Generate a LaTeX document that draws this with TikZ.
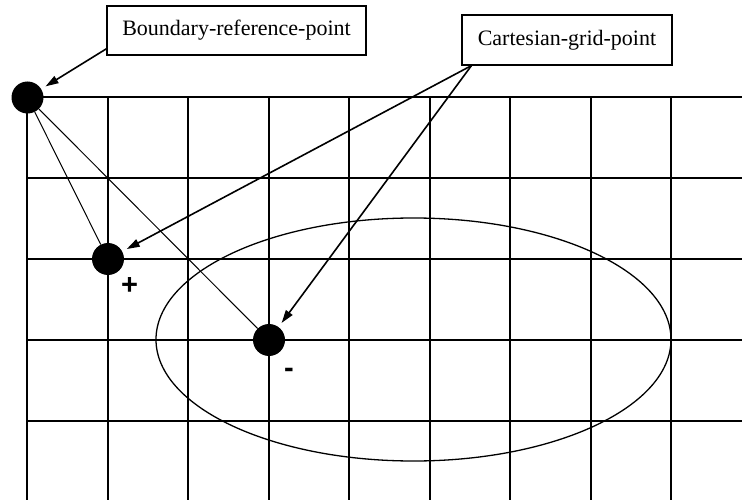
\documentclass[tikz,border=0pt]{standalone}
\usepackage{fontspec}
\setmainfont{Liberation Serif}
\newfontfamily\signfont{Liberation Sans}
\usetikzlibrary{arrows.meta}
\begin{document}
\begin{tikzpicture}[x=1pt,y=-1pt,
  gridline/.style={line width=1.7pt},
  thinline/.style={line width=1pt},
  ptr/.style={line width=1.6pt,-{Triangle[length=13pt,width=8pt]},shorten >=5pt},
  dot/.style={circle,fill=black,inner sep=0pt,minimum size=32pt},
  labelbox/.style={draw,line width=1.2pt,inner sep=0pt,font=\fontsize{22}{26}\selectfont},
  sign/.style={inner sep=0pt,font=\signfont\bfseries\fontsize{29}{33}\selectfont}]
\useasboundingbox (0,0) rectangle (742,500);
% grid
\foreach \y in {97,178,259,340,421}
  \draw[gridline] (27,\y) -- (742,\y);
\foreach \x in {27,108,188,269,349,430,510,591,671}
  \draw[gridline] (\x,97) -- (\x,500);
% ellipse
\draw[line width=1.3pt] (413.5,339.5) ellipse [x radius=257.5pt, y radius=121.5pt];
% dots
\node[dot] (br) at (27.5,97.5) {};
\node[dot] (plus) at (108,259) {};
\node[dot] (minus) at (269,340) {};
\draw[thinline] (br) -- (plus);
\draw[thinline] (br) -- (minus);
% signs
\node[sign] (ps) at (129.5,285.7) {+};
\node[sign] (ms) at (289,373) {-};
% label boxes
\node[labelbox,minimum width=259pt,minimum height=49pt] (bbox) at (236.5,30.5) {Boundary-reference-point};
\node[labelbox,minimum width=210pt,minimum height=50pt] (cbox) at (567,40) {Cartesian-grid-point};
% arrows
\draw[ptr] (bbox.188) -- (br);
\draw[ptr] (cbox.195.5) -- (plus);
\draw[ptr] (cbox.195.5) -- (minus);
\end{tikzpicture}
\end{document}
